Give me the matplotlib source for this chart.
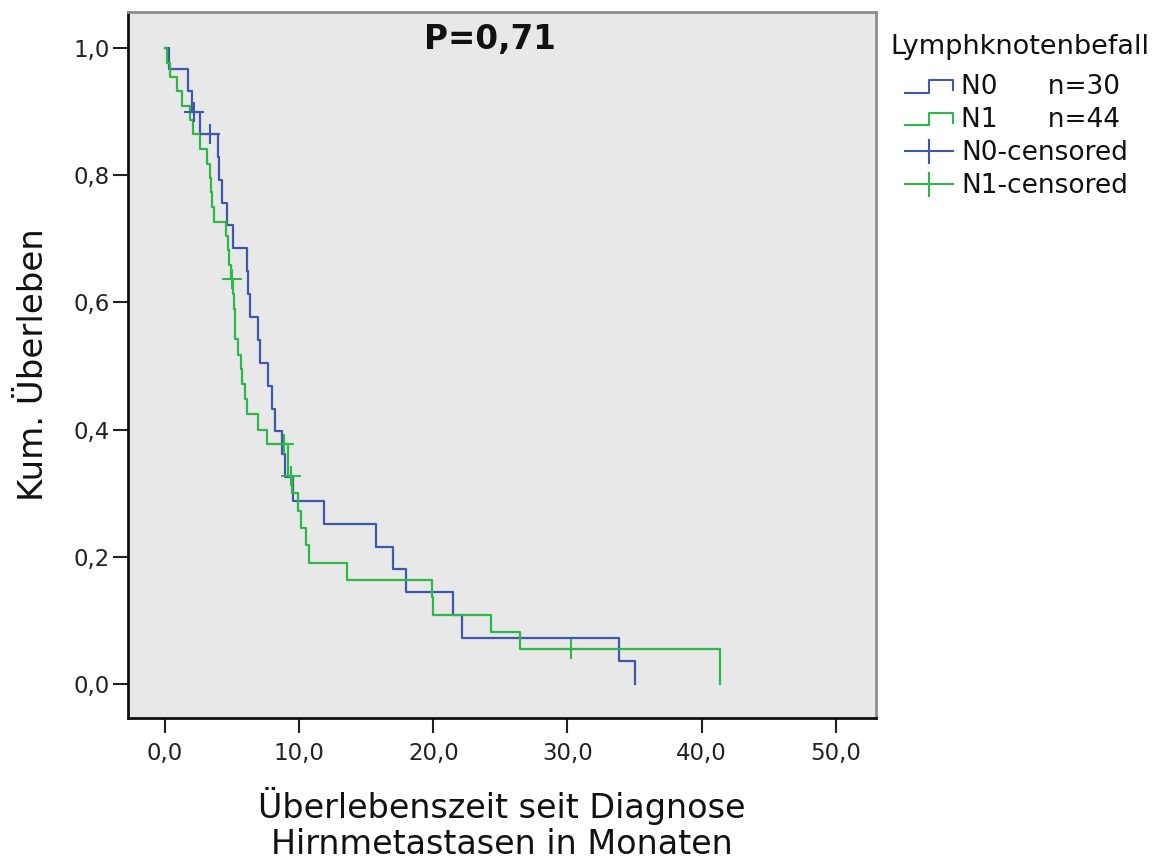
import numpy as np
import matplotlib
matplotlib.use('Agg')
import matplotlib.pyplot as plt
from matplotlib.lines import Line2D
from matplotlib.legend_handler import HandlerBase
from matplotlib.ticker import FuncFormatter

# Kaplan-Meier steps
n0_time = [0, 0.3, 1.74, 1.98, 2.6, 3.97, 4.05, 4.22, 4.6, 5.05, 6.08, 6.2, 6.33, 6.95, 7.08,
           7.7, 7.95, 8.2, 8.7, 8.94, 9.56, 11.87, 15.72, 16.96, 17.96, 21.44, 22.17, 33.86, 35.02]
n0_surv = [1.0, 0.967, 0.933, 0.900, 0.865, 0.829, 0.793, 0.757, 0.721, 0.685, 0.649, 0.613, 0.577,
           0.541, 0.505, 0.469, 0.433, 0.397, 0.361, 0.325, 0.288, 0.252, 0.216, 0.180, 0.144,
           0.108, 0.072, 0.036, 0.0]
n0_cens_t = [2.18, 3.35]
n0_cens_s = [0.900, 0.865]

n1_time = [0, 0.15, 0.37, 0.87, 1.24, 1.86, 2.1, 2.6, 3.1, 3.35, 3.4, 3.53, 3.68, 4.58, 4.72, 4.8,
           4.92, 5.1, 5.15, 5.2, 5.25, 5.47, 5.63, 5.77, 5.96, 6.08, 6.95, 7.58, 9.15, 9.2, 9.5,
           9.94, 10.1, 10.5, 10.76, 13.59, 19.87, 20.0, 24.3, 26.45, 41.4]
n1_surv = [1.0, 0.977, 0.955, 0.932, 0.909, 0.886, 0.864, 0.841, 0.818, 0.795, 0.773, 0.750, 0.727,
           0.705, 0.682, 0.659, 0.636, 0.613, 0.589, 0.565, 0.542, 0.518, 0.495, 0.471, 0.448,
           0.424, 0.400, 0.377, 0.352, 0.327, 0.300, 0.272, 0.245, 0.218, 0.191, 0.164, 0.136,
           0.109, 0.082, 0.055, 0.0]
n1_cens_t = [5.02, 8.9, 9.36, 30.3]
n1_cens_s = [0.636, 0.377, 0.327, 0.055]

x_ticks = [0, 10, 20, 30, 40, 50]
y_ticks = [0.0, 0.2, 0.4, 0.6, 0.8, 1.0]

blue = '#3E58AC'
green = '#2EB848'


class StepHandler(HandlerBase):
    # little step symbol like in the SPSS legend
    def create_artists(self, legend, orig_handle, xdescent, ydescent, width, height, fontsize, trans):
        x0 = -xdescent
        y0 = -ydescent
        xs = [x0, x0 + width * 0.5, x0 + width * 0.5, x0 + width, x0 + width]
        ys = [y0 + height * 0.1, y0 + height * 0.1, y0 + height * 0.8, y0 + height * 0.8, y0 + height * 0.25]
        ln = Line2D(xs, ys, color=orig_handle.get_color(), lw=1.5, transform=trans)
        return [ln]


fig = plt.figure(figsize=(11.53, 8.61), dpi=100)
ax = fig.add_axes([128 / 1153, 1 - 718 / 861, 748 / 1153, 706 / 861])
ax.set_facecolor('#E8E8E8')

ax.plot(n0_time, n0_surv, drawstyle='steps-post', color=blue, lw=1.6)
ax.plot(n1_time, n1_surv, drawstyle='steps-post', color=green, lw=1.6)
ax.plot(n0_cens_t, n0_cens_s, ls='none', marker='+', ms=15, mew=1.5, color=blue)
ax.plot(n1_cens_t, n1_cens_s, ls='none', marker='+', ms=15, mew=1.5, color=green)

ax.set_xlim(-2.76, 53.0)
ax.set_ylim(-0.0535, 1.0566)
ax.set_xticks(x_ticks)
ax.set_yticks(y_ticks)
ax.xaxis.set_major_formatter(FuncFormatter(lambda v, p: f'{v:.1f}'.replace('.', ',')))
ax.yaxis.set_major_formatter(FuncFormatter(lambda v, p: f'{v:.1f}'.replace('.', ',')))
ax.tick_params(axis='both', labelsize=16.5, length=11, width=1.5, color='#222222', labelcolor='#222222')
ax.tick_params(axis='x', pad=6)
ax.tick_params(axis='y', pad=2)

for s in ['left', 'bottom']:
    ax.spines[s].set_color('#111111')
    ax.spines[s].set_linewidth(2)
for s in ['top', 'right']:
    ax.spines[s].set_color('#8C8C8C')
    ax.spines[s].set_linewidth(2)

ax.text(24.2, 1.013, 'P=0,71', fontsize=23.5, fontweight='bold', ha='center', va='center', color='#111111')

ax.set_ylabel('Kum. Überleben', fontsize=24.5, color='#111111', labelpad=17)
ax.set_xlabel('Überlebenszeit seit Diagnose\nHirnmetastasen in Monaten', fontsize=24,
              color='#111111', labelpad=16, linespacing=1.12)

# legend title sits further left than the entries
fig.text(890 / 1153, 1 - 47 / 861, 'Lymphknotenbefall', fontsize=19.5, va='center', ha='left', color='#111111')

h_n0 = Line2D([], [], color=blue)
h_n1 = Line2D([], [], color=green)
h_c0 = Line2D([], [], color=blue, lw=1.5, marker='|', ms=18, mew=1.5)
h_c1 = Line2D([], [], color=green, lw=1.5, marker='|', ms=18, mew=1.5)
leg = fig.legend([h_n0, h_n1, h_c0, h_c1],
                 ['N0      n=30', 'N1      n=44', 'N0-censored', 'N1-censored'],
                 handler_map={h_n0: StepHandler(), h_n1: StepHandler()},
                 loc='upper left', bbox_to_anchor=(887 / 1153, 1 - 56 / 861),
                 frameon=False, fontsize=19, handlelength=1.8, handletextpad=0.3,
                 labelspacing=0.26, numpoints=1, borderpad=0.2)
for t in leg.get_texts():
    t.set_color('#111111')

fig.savefig('out.png', dpi=100)
